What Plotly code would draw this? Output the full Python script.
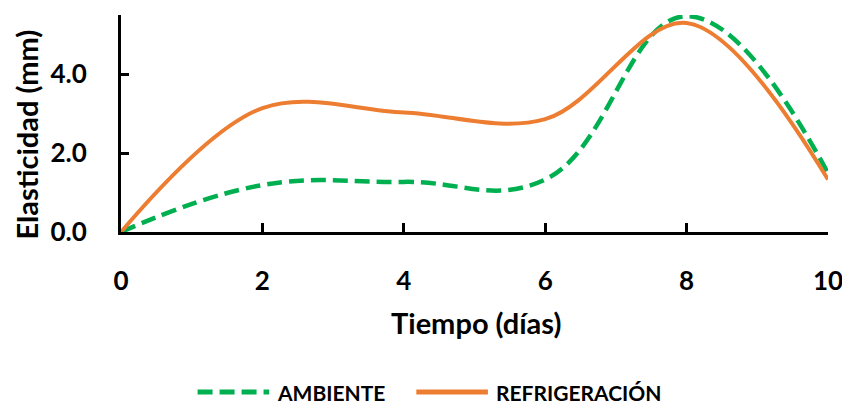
import plotly.graph_objects as go

dias = [0, 2, 4, 6, 8, 10]
ambiente = [0.0, 1.19, 1.27, 1.33, 5.47, 1.49]
refrigeracion = [0.0, 3.14, 3.03, 2.86, 5.30, 1.33]
y_ticks = [0.0, 2.0, 4.0]
x_ticks = [0, 2, 4, 6, 8, 10]
series_names = ["AMBIENTE", "REFRIGERACIÓN"]

GREEN = "#00B050"
ORANGE = "#ED7D31"
FONT = "Lato"

fig = go.Figure()
fig.add_trace(go.Scatter(
    x=dias, y=ambiente, mode="lines", name=series_names[0],
    line=dict(color=GREEN, width=4.5, dash="15px,7px", shape="spline", smoothing=1.2),
))
fig.add_trace(go.Scatter(
    x=dias, y=refrigeracion, mode="lines", name=series_names[1],
    line=dict(color=ORANGE, width=4, shape="spline", smoothing=1),
))

# page body adds an 8px offset; compensate so the picture lands where the reference has it
OFF = 8
W, H = 850 - OFF, 404 - OFF
L, R, T, B = 121 - OFF, 18, 15 - OFF, 172
pw = W - L - R
ph = H - T - B

def px(x):
    return (x - OFF - L) / pw

def py(y):
    return (H - B - (y - OFF)) / ph

fig.update_layout(
    width=W, height=H,
    margin=dict(l=L, r=R, t=T, b=B),
    paper_bgcolor="white", plot_bgcolor="white",
    showlegend=False,
    font=dict(family=FONT, color="black"),
    xaxis=dict(
        range=[0, 10], tickvals=x_ticks, ticktext=[str(v) for v in x_ticks],
        showgrid=False, zeroline=False, showline=True, linecolor="black", linewidth=3,
        ticks="inside", ticklen=9, tickwidth=3, tickcolor="black",
        tickfont=dict(family=FONT, size=26, color="black", weight="bold"),
        ticklabelstandoff=24,
    ),
    yaxis=dict(
        range=[0, 5.5], tickvals=y_ticks, ticktext=[f"{v:.1f}" for v in y_ticks],
        showgrid=False, zeroline=False, showline=True, linecolor="black", linewidth=3,
        ticks="inside", ticklen=8, tickwidth=3, tickcolor="black",
        tickfont=dict(family=FONT, size=26, color="black", weight="bold"),
        ticklabelstandoff=26,
    ),
)

annotations = [
    dict(text="<b>Tiempo (días)</b>", x=px(478), y=py(322), xref="paper", yref="paper",
         showarrow=False, xanchor="center", yanchor="middle",
         font=dict(family=FONT, size=29, color="black")),
    dict(text="<b>Elasticidad (mm)</b>", x=px(25), y=py(135), xref="paper", yref="paper",
         showarrow=False, xanchor="center", yanchor="middle", textangle=-90,
         font=dict(family=FONT, size=29, color="black")),
    dict(text="<b>" + series_names[0] + "</b>", x=px(276), y=py(392), xref="paper", yref="paper",
         showarrow=False, xanchor="left", yanchor="middle",
         font=dict(family=FONT, size=21, color="black")),
    dict(text="<b>" + series_names[1] + "</b>", x=px(496), y=py(392), xref="paper", yref="paper",
         showarrow=False, xanchor="left", yanchor="middle",
         font=dict(family=FONT, size=21, color="black")),
]
fig.update_layout(annotations=annotations)

fig.add_shape(type="line", xref="paper", yref="paper",
              x0=px(198), x1=px(270), y0=py(392), y1=py(392),
              line=dict(color=GREEN, width=5, dash="15px,7px"))
fig.add_shape(type="line", xref="paper", yref="paper",
              x0=px(418), x1=px(490), y0=py(392), y1=py(392),
              line=dict(color=ORANGE, width=5))

fig.write_html("out.html")
